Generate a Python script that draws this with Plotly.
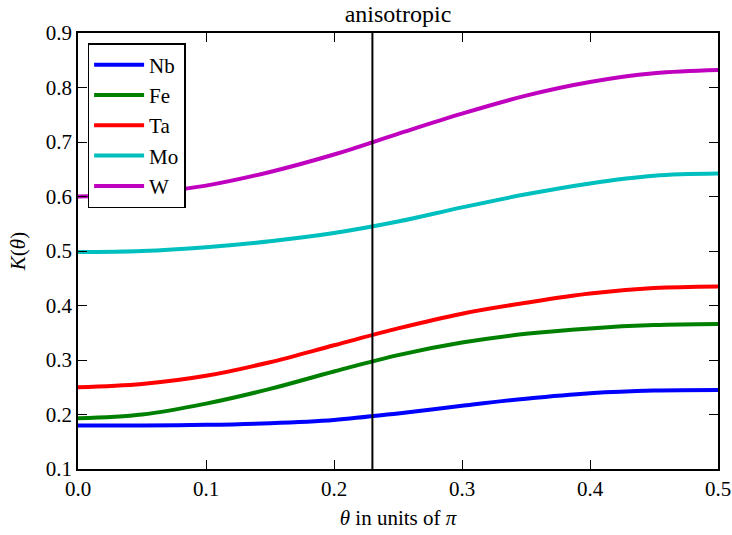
import plotly.graph_objects as go

# theta sampled in units of pi
theta = [0.0, 0.05, 0.1, 0.15, 0.2, 0.25, 0.3, 0.35, 0.4, 0.45, 0.5]

k_nb = [0.180, 0.180, 0.181, 0.184, 0.190, 0.202, 0.216, 0.229, 0.239, 0.244, 0.245]
k_fe = [0.193, 0.200, 0.220, 0.247, 0.279, 0.309, 0.332, 0.348, 0.358, 0.364, 0.366]
k_ta = [0.250, 0.256, 0.271, 0.296, 0.327, 0.358, 0.385, 0.405, 0.422, 0.432, 0.435]
k_mo = [0.498, 0.500, 0.507, 0.518, 0.533, 0.554, 0.580, 0.604, 0.624, 0.638, 0.642]
k_w = [0.600, 0.605, 0.620, 0.645, 0.677, 0.715, 0.752, 0.785, 0.810, 0.826, 0.832]

theta_marker = 0.23

series = [
    ("Nb", k_nb, "#0000ff"),
    ("Fe", k_fe, "#008000"),
    ("Ta", k_ta, "#ff0000"),
    ("Mo", k_mo, "#00bfbf"),
    ("W", k_w, "#bf00bf"),
]

serif = "Times New Roman"

fig = go.Figure()
for name, vals, color in series:
    fig.add_trace(go.Scatter(
        x=theta, y=vals, name=name, mode="lines",
        line=dict(color=color, width=4, shape="spline", smoothing=1.0),
    ))

fig.add_trace(go.Scatter(
    x=[theta_marker, theta_marker], y=[0.1, 0.9], mode="lines",
    line=dict(color="black", width=2), showlegend=False, hoverinfo="skip",
))

axis_common = dict(
    showline=True, linecolor="black", linewidth=1.5, mirror="allticks",
    ticks="inside", ticklen=9, tickwidth=1, tickcolor="black",
    showgrid=False, zeroline=False, automargin=False,
    tickfont=dict(family=serif, size=21, color="black"),
)

fig.update_layout(
    width=732, height=535,
    font=dict(family=serif, size=21, color="black"),
    margin=dict(l=78, r=14, t=33, b=66),
    paper_bgcolor="white", plot_bgcolor="white",
    title=dict(text="anisotropic", x=0.5, xanchor="center", xref="paper",
               y=1, yref="paper", yanchor="bottom", pad=dict(b=11),
               font=dict(family=serif, size=24, color="black")),
    xaxis=dict(range=[0, 0.5], dtick=0.1, tickformat=".1f",
               title=dict(text="<i>θ</i> in units of <i>π</i>", standoff=10,
                          font=dict(family=serif, size=21, color="black")),
               **axis_common),
    yaxis=dict(range=[0.1, 0.9], dtick=0.1, tickformat=".1f",
               title=dict(text="<i>K</i>(<i>θ</i>)", standoff=14,
                          font=dict(family=serif, size=21, color="black")),
               **axis_common),
    legend=dict(x=0.015, y=0.977, xanchor="left", yanchor="top",
                bgcolor="white", bordercolor="black", borderwidth=1.5,
                font=dict(family=serif, size=21, color="black"),
                itemwidth=50, tracegroupgap=0),
    showlegend=True,
)

fig.write_html("out.html")
